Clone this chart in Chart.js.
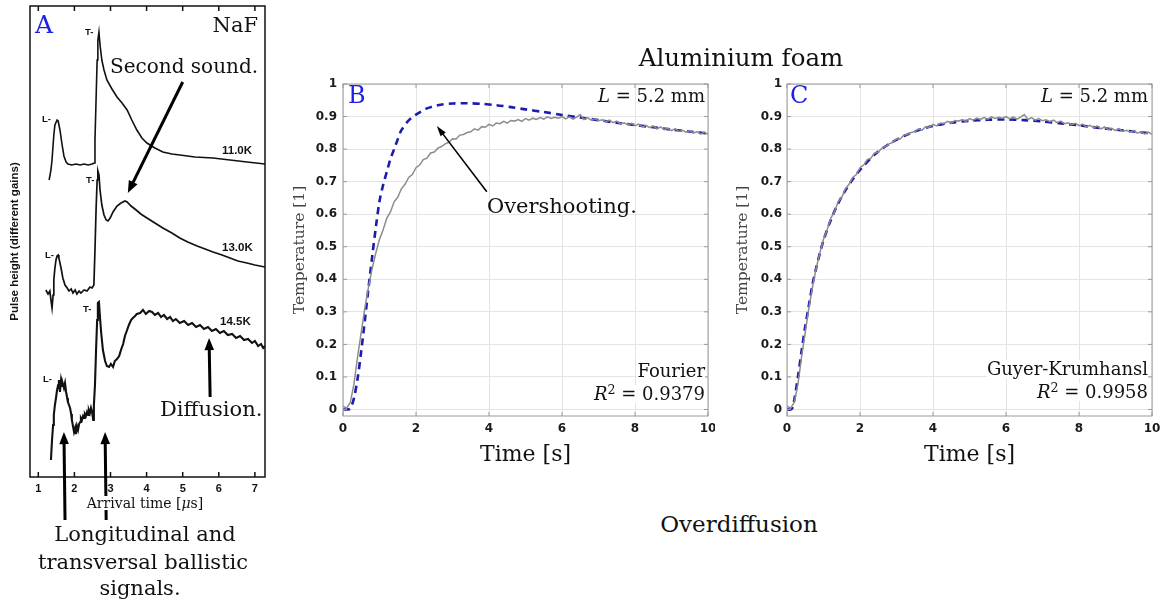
<!DOCTYPE html>
<html>
<head>
<meta charset="utf-8">
<script src="https://cdn.jsdelivr.net/npm/chart.js@4"></script>
<style>
    body { margin: 0; background: #fff; }
    #fig { position: relative; width: 1164px; height: 603px; overflow: hidden; font-family: "DejaVu Serif", serif; color: #111; }
    #fig canvas { position: absolute; }
    .t { position: absolute; white-space: nowrap; line-height: 1; }
</style>
</head>
<body>
<div id="fig">
    <canvas id="panelA" width="285" height="603" style="left:0px;top:0px"></canvas>
    <canvas id="panelB" width="430" height="400" style="left:285px;top:70px"></canvas>
    <canvas id="panelC" width="434" height="400" style="left:730px;top:70px"></canvas>
</div>
<script>
// ---- panel A: heat pulses in NaF (arrival time in µs, pulse height in arbitrary units) ----
const a11Time = [1.30, 1.35, 1.38, 1.43, 1.46, 1.52, 1.55, 1.60, 1.66, 1.71, 1.77, 1.82, 1.93, 2.04, 2.16,
    2.27, 2.38, 2.49, 2.55, 2.57, 2.60, 2.63, 2.65, 2.68, 2.71, 2.76, 2.82, 2.90, 3.04, 3.18,
    3.32, 3.46, 3.59, 3.73, 3.87, 4.01, 4.23, 4.45, 4.70, 4.92, 5.34, 5.84, 6.31, 6.78, 7.28];
const a11Height = [29.7, 30.7, 31.7, 34.2, 35.2, 35.7, 35.6, 34.7, 33.2, 32.1, 31.5, 31.3, 31.2, 31.3, 31.2,
    31.3, 31.2, 31.3, 31.4, 33.7, 37.7, 41.7, 43.7, 44.5, 43.2, 41.7, 40.7, 39.7, 38.8, 38.0,
    37.4, 36.7, 35.7, 34.7, 33.9, 33.4, 32.9, 32.5, 32.3, 32.2, 32.0, 31.9, 31.7, 31.5, 31.3];

const a13Time = [1.21, 1.27, 1.32, 1.35, 1.38, 1.41, 1.43, 1.46, 1.49, 1.52, 1.55, 1.57, 1.63, 1.68, 1.74,
    1.80, 1.85, 1.91, 1.96, 2.02, 2.07, 2.13, 2.18, 2.27, 2.35, 2.43, 2.49, 2.54, 2.57, 2.60,
    2.63, 2.65, 2.68, 2.71, 2.76, 2.82, 2.88, 2.93, 2.99, 3.07, 3.18, 3.29, 3.40, 3.46, 3.57,
    3.71, 3.84, 4.01, 4.23, 4.45, 4.70, 4.92, 5.14, 5.40, 5.62, 5.84, 6.09, 6.31, 6.53, 6.78, 7.00, 7.28];
const a13Height = [18.7, 18.3, 18.6, 17.7, 16.9, 18.2, 19.7, 20.9, 21.7, 22.1, 22.2, 21.9, 20.9, 19.9, 19.2,
    18.9, 18.6, 18.8, 18.4, 18.7, 18.3, 18.6, 18.4, 18.7, 18.6, 19.0, 18.9, 19.2, 22.7, 26.7,
    29.7, 30.6, 30.2, 28.7, 27.2, 26.2, 25.7, 25.6, 25.9, 26.5, 27.1, 27.4, 27.6, 27.5, 27.1,
    26.7, 26.3, 25.9, 25.4, 24.9, 24.4, 23.9, 23.5, 23.1, 22.8, 22.5, 22.2, 21.9, 21.6, 21.4, 21.2, 21.0];

const a14Time = [1.35, 1.38, 1.41, 1.43, 1.46, 1.49, 1.52, 1.55, 1.57, 1.60, 1.63, 1.66, 1.68, 1.71, 1.74, 1.77, 1.80, 1.82,
    1.88, 1.91, 1.93, 1.96, 1.99, 2.02, 2.04, 2.07, 2.10, 2.13, 2.16, 2.18, 2.21, 2.24, 2.27, 2.29,
    2.32, 2.35, 2.38, 2.40, 2.43, 2.46, 2.49, 2.52, 2.54, 2.57, 2.60, 2.63, 2.65, 2.68, 2.71, 2.74,
    2.79, 2.85, 2.90, 2.96, 3.01, 3.07, 3.12, 3.18, 3.24, 3.29, 3.35, 3.40, 3.46, 3.51, 3.57, 3.62, 3.68, 3.73,
    3.82, 3.90, 3.98, 4.07, 4.15, 4.23, 4.32, 4.40, 4.48, 4.57, 4.65, 4.73, 4.81,
    4.92, 5.04, 5.15, 5.26, 5.37, 5.48, 5.59, 5.70, 5.81, 5.92, 6.03, 6.14, 6.25, 6.37, 6.48, 6.59, 6.70, 6.81, 6.92,
    7.00, 7.09, 7.17, 7.23, 7.28];
const a14Height = [1.7, 3.7, 5.2, 6.2, 7.2, 7.9, 8.7, 9.2, 9.7, 8.5, 9.7, 9.1, 9.3, 8.9, 9.4, 8.5, 7.9, 7.5,
    6.9, 6.3, 5.7, 5.1, 4.5, 4.9, 4.3, 5.1, 4.7, 5.3, 5.5, 5.9, 5.7, 6.1, 5.9, 6.3,
    6.1, 6.5, 6.2, 6.7, 6.4, 6.9, 6.5, 5.7, 7.2, 9.2, 12.7, 15.7, 17.4, 17.5, 15.9, 14.5,
    12.7, 11.6, 11.1, 11.0, 11.3, 11.0, 11.6, 11.8, 12.1, 12.7, 13.3, 14.1, 14.7, 15.2, 15.7, 15.9, 16.1, 16.3,
    16.4, 16.7, 16.3, 16.6, 16.5, 16.2, 16.4, 16.0, 16.2, 15.8, 16.0, 15.6, 15.8,
    15.4, 15.6, 15.2, 15.4, 15.0, 15.2, 14.8, 15.0, 14.6, 14.8, 14.4, 14.6, 14.2, 14.3, 13.9, 14.1, 13.7, 13.8, 13.4,
    13.6, 13.1, 13.3, 12.9, 13.1];

const aTicks = [1, 2, 3, 4, 5, 6, 7];

// ---- panels B and C: aluminium foam, normalised rear-side temperature ----
const expTime = [0, 0.1, 0.2, 0.3, 0.4, 0.5, 0.6, 0.7, 0.8, 0.9, 1.0, 1.1, 1.2, 1.3, 1.4, 1.5, 1.6, 1.7, 1.8, 1.9,
    2.0, 2.1, 2.2, 2.3, 2.4, 2.5, 2.6, 2.7, 2.8, 2.9, 3.0, 3.1, 3.2, 3.3, 3.4, 3.5, 3.6, 3.7, 3.8, 3.9,
    4.0, 4.1, 4.2, 4.3, 4.4, 4.5, 4.6, 4.7, 4.8, 4.9, 5.0, 5.1, 5.2, 5.3, 5.4, 5.5, 5.6, 5.7, 5.8, 5.9,
    6.0, 6.1, 6.2, 6.3, 6.4, 6.5, 6.6, 6.7, 6.8, 6.9, 7.0, 7.1, 7.2, 7.3, 7.4, 7.5, 7.6, 7.7, 7.8, 7.9,
    8.0, 8.1, 8.2, 8.3, 8.4, 8.5, 8.6, 8.7, 8.8, 8.9, 9.0, 9.1, 9.2, 9.3, 9.4, 9.5, 9.6, 9.7, 9.8, 9.9, 10.0];
const expTemp = [0.010, 0.004, 0.022, 0.078, 0.162, 0.238, 0.312, 0.377, 0.434, 0.481, 0.523, 0.552, 0.588, 0.607, 0.638, 0.652, 0.678, 0.692, 0.713, 0.722,
    0.743, 0.751, 0.768, 0.772, 0.788, 0.791, 0.803, 0.808, 0.816, 0.821, 0.832, 0.831, 0.843, 0.845, 0.851, 0.853, 0.862, 0.858, 0.869, 0.867,
    0.876, 0.871, 0.880, 0.878, 0.885, 0.880, 0.888, 0.886, 0.891, 0.885, 0.894, 0.889, 0.895, 0.891, 0.897, 0.892, 0.899, 0.894, 0.898, 0.895,
    0.900, 0.893, 0.899, 0.892, 0.898, 0.906, 0.891, 0.897, 0.889, 0.894, 0.887, 0.890, 0.884, 0.889, 0.881, 0.886, 0.878, 0.881, 0.875, 0.879,
    0.872, 0.877, 0.868, 0.873, 0.866, 0.871, 0.862, 0.868, 0.860, 0.864, 0.857, 0.863, 0.854, 0.858, 0.852, 0.857, 0.849, 0.854, 0.846, 0.852, 0.845];

const fourierTime = [0, 0.1, 0.2, 0.3, 0.4, 0.5, 0.6, 0.7, 0.8, 0.9, 1.0, 1.1, 1.2, 1.3, 1.4, 1.5, 1.6, 1.8, 2.0, 2.3,
    2.6, 3.0, 3.4, 3.8, 4.2, 4.6, 5.0, 5.5, 6.0, 6.5, 7.0, 7.5, 8.0, 8.5, 9.0, 9.5, 10];
const fourierTemp = [0, 0, 0.003, 0.035, 0.095, 0.18, 0.275, 0.375, 0.47, 0.56, 0.64, 0.69, 0.73, 0.77, 0.80, 0.83, 0.858, 0.888, 0.906, 0.925,
    0.935, 0.94, 0.941, 0.939, 0.935, 0.929, 0.922, 0.914, 0.905, 0.897, 0.889, 0.881, 0.874, 0.867, 0.86, 0.854, 0.848];

const gkTime = [0, 0.1, 0.15, 0.2, 0.3, 0.4, 0.5, 0.6, 0.7, 0.8, 0.9, 1.0, 1.2, 1.4, 1.6, 1.8, 2.0, 2.4, 2.8, 3.2,
    3.6, 4.0, 4.5, 5.0, 5.5, 6.0, 6.5, 7.0, 7.5, 8.0, 8.5, 9.0, 9.5, 10];
const gkTemp = [0, 0, 0.005, 0.03, 0.10, 0.18, 0.255, 0.32, 0.385, 0.435, 0.48, 0.52, 0.582, 0.633, 0.673, 0.707, 0.736, 0.783, 0.816, 0.84,
    0.858, 0.871, 0.881, 0.887, 0.89, 0.891, 0.889, 0.885, 0.879, 0.873, 0.866, 0.86, 0.854, 0.848];

const timeTicks = [0, 2, 4, 6, 8, 10];
const tempTicks = [0, 0.1, 0.2, 0.3, 0.4, 0.5, 0.6, 0.7, 0.8, 0.9, 1];

// annotation arrows, in data units of each panel
const arrowsA = [
    { from: [5.0, 39.5], to: [3.48, 28.4] },
    { from: [5.76, 8.0], to: [5.73, 13.9] },
    { from: [1.74, -4.3], to: [1.71, 4.5] },
    { from: [2.88, -4.3], to: [2.85, 4.5] },
];
const arrowsB = [{ from: [3.94, 0.669], to: [2.57, 0.871] }];

const GRID = '#e4e4e4';
const BLUE = '#1c1cb0';

function pairs(xs, ys) {
    return xs.map((x, i) => ({ x: x, y: ys[i] }));
}

// force the axis box to a fixed size so the plot area lands where it should
function fixSize(size) {
    return function (scale) {
        if (scale.isHorizontal()) scale.height = size; else scale.width = size;
        scale.paddingLeft = 0;
        scale.paddingRight = 0;
        scale.paddingTop = 0;
        scale.paddingBottom = 0;
    };
}

function setTicks(values) {
    return function (scale) {
        scale.ticks = values.map(v => ({ value: v }));
    };
}

function framePlugin(color, width, tickLen, yTicksToo) {
    return {
        id: 'frame',
        afterDraw(chart) {
            const { ctx, chartArea: a, scales } = chart;
            ctx.save();
            ctx.strokeStyle = color;
            ctx.lineWidth = width;
            ctx.strokeRect(a.left, a.top, a.right - a.left, a.bottom - a.top);
            ctx.beginPath();
            scales.x.ticks.forEach(t => {
                const px = scales.x.getPixelForValue(t.value);
                ctx.moveTo(px, a.bottom); ctx.lineTo(px, a.bottom - tickLen);
                ctx.moveTo(px, a.top); ctx.lineTo(px, a.top + tickLen);
            });
            if (yTicksToo) {
                scales.y.ticks.forEach(t => {
                    const py = scales.y.getPixelForValue(t.value);
                    ctx.moveTo(a.left, py); ctx.lineTo(a.left + tickLen, py);
                    ctx.moveTo(a.right, py); ctx.lineTo(a.right - tickLen, py);
                });
            }
            ctx.stroke();
            ctx.restore();
        }
    };
}

function arrowPlugin(list, width, head, spread) {
    return {
        id: 'arrows',
        afterDraw(chart) {
            const { ctx, scales: { x, y } } = chart;
            ctx.save();
            ctx.strokeStyle = '#000';
            ctx.fillStyle = '#000';
            ctx.lineWidth = width;
            list.forEach(a => {
                const x0 = x.getPixelForValue(a.from[0]), y0 = y.getPixelForValue(a.from[1]);
                const x1 = x.getPixelForValue(a.to[0]), y1 = y.getPixelForValue(a.to[1]);
                const ang = Math.atan2(y1 - y0, x1 - x0);
                ctx.beginPath();
                ctx.moveTo(x0, y0);
                ctx.lineTo(x1 - Math.cos(ang) * head * 0.7, y1 - Math.sin(ang) * head * 0.7);
                ctx.stroke();
                ctx.beginPath();
                ctx.moveTo(x1, y1);
                ctx.lineTo(x1 - head * Math.cos(ang - spread), y1 - head * Math.sin(ang - spread));
                ctx.lineTo(x1 - head * Math.cos(ang + spread), y1 - head * Math.sin(ang + spread));
                ctx.closePath();
                ctx.fill();
            });
            ctx.restore();
        }
    };
}

const base = {
    responsive: false,
    animation: false,
    events: [],
    plugins: { legend: { display: false }, tooltip: { enabled: false } },
};

// ---------- panel A ----------
new Chart(document.getElementById('panelA'), {
    type: 'line',
    data: {
        datasets: [
            { data: pairs(a11Time, a11Height), borderColor: '#111', borderWidth: 1.6, pointRadius: 0, tension: 0 },
            { data: pairs(a13Time, a13Height), borderColor: '#111', borderWidth: 1.7, pointRadius: 0, tension: 0 },
            { data: pairs(a14Time, a14Height), borderColor: '#111', borderWidth: 2.1, pointRadius: 0, tension: 0 },
        ]
    },
    options: Object.assign({}, base, {
        layout: { padding: { left: 0, right: 20, top: 6, bottom: 106 } },
        scales: {
            x: {
                type: 'linear', min: 0.77, max: 7.28,
                afterBuildTicks: setTicks(aTicks),
                afterFit: fixSize(20),
                grid: { display: false, drawTicks: false },
                border: { display: false },
                ticks: { padding: 5, color: '#111', font: { family: 'Liberation Sans', weight: 'bold', size: 11 } },
            },
            y: {
                type: 'linear', min: 0, max: 47.1,
                afterFit: fixSize(30),
                grid: { display: false, drawTicks: false },
                border: { display: false },
                ticks: { display: false },
                title: {
                    display: true, text: 'Pulse height (different gains)', color: '#111',
                    font: { family: 'Liberation Sans', weight: 'bold', size: 11.5 }, padding: { top: 8 },
                },
            },
        },
    }),
    plugins: [framePlugin('#111', 1.5, 5, false), arrowPlugin(arrowsA, 3, 13, 0.38)],
});

// ---------- panels B and C ----------
function tempChart(id, series, yAxisWidth, rightPad, yTickPad, yTitlePad, arrows) {
    const plugins = [framePlugin('#9a9a9a', 1, 4, true)];
    if (arrows) plugins.push(arrowPlugin(arrows, 1.6, 11, 0.3));
    return new Chart(document.getElementById(id), {
        type: 'line',
        data: {
            datasets: [
                { data: pairs(expTime, expTemp), borderColor: '#8c8c8c', borderWidth: 1.5, pointRadius: 0, tension: 0 },
                { data: series, borderColor: BLUE, borderWidth: 2.6, borderDash: [7, 5], pointRadius: 0, tension: 0.3 },
            ]
        },
        options: Object.assign({}, base, {
            layout: { padding: { left: 0, right: rightPad, top: 14, bottom: 0 } },
            scales: {
                x: {
                    type: 'linear', min: 0, max: 10,
                    afterBuildTicks: setTicks(timeTicks),
                    afterFit: fixSize(54),
                    grid: { color: GRID, drawTicks: false },
                    border: { display: false },
                    ticks: { padding: 6, color: '#1a1a1a', font: { family: 'DejaVu Sans', weight: 'bold', size: 12 } },
                    title: { display: true, text: 'Time [s]', color: '#111', font: { family: 'DejaVu Serif', size: 22 }, padding: { bottom: 2 } },
                },
                y: {
                    type: 'linear', min: -0.02, max: 1,
                    afterBuildTicks: setTicks(tempTicks),
                    afterFit: fixSize(yAxisWidth),
                    grid: { color: GRID, drawTicks: false },
                    border: { display: false },
                    ticks: {
                        padding: yTickPad, color: '#1a1a1a', font: { family: 'DejaVu Sans', weight: 'bold', size: 12 },
                        callback: v => String(+v.toFixed(2)),
                    },
                    title: { display: true, text: 'Temperature [1]', color: '#444', font: { family: 'DejaVu Serif', size: 15.5 }, padding: { top: yTitlePad } },
                },
            },
        }),
        plugins: plugins,
    });
}

tempChart('panelB', pairs(fourierTime, fourierTemp), 58, 7, 6, 6, arrowsB);
tempChart('panelC', pairs(gkTime, gkTemp), 57, 12, 5, 4, null);

// ---------- text ----------
const fig = document.getElementById('fig');
function addText(html, x, baseline, size, align, style) {
    const el = document.createElement('div');
    el.className = 't';
    el.innerHTML = html;
    el.style.fontSize = size + 'px';
    el.style.top = (baseline - 0.846 * size) + 'px';
    if (align === 'right') {
        el.style.right = (1164 - x) + 'px';
    } else if (align === 'center') {
        el.style.left = x + 'px';
        el.style.transform = 'translateX(-50%)';
    } else {
        el.style.left = x + 'px';
    }
    Object.assign(el.style, style || {});
    fig.appendChild(el);
}
const sansBold = { fontFamily: '"Liberation Sans", sans-serif', fontWeight: 'bold' };
const blue = { color: '#1f1fe6' };
const whiteBox = { background: '#fff' };
const sq = '<span style="font-size:0.7em;vertical-align:0.5em;line-height:0">2</span>';

// panel A
addText('A', 35, 33, 25, 'left', blue);
addText('NaF', 258, 33, 21, 'right');
addText('Second sound.', 110, 73, 20, 'left');
addText('Diffusion.', 160, 417, 21, 'left');
addText('L-', 42, 122, 9.5, 'left', sansBold);
addText('T-', 85, 35, 9.5, 'left', sansBold);
addText('L-', 45, 258, 9.5, 'left', sansBold);
addText('T-', 86, 183, 9.5, 'left', sansBold);
addText('T-', 83, 312, 9.5, 'left', sansBold);
addText('L-', 43, 382, 9.5, 'left', sansBold);
addText('11.0K', 222, 155, 11.5, 'left', sansBold);
addText('13.0K', 222, 252, 11.5, 'left', sansBold);
addText('14.5K', 220, 326, 11.5, 'left', sansBold);
addText('Arrival time [<i>μ</i>s]', 145, 508, 14, 'center', whiteBox);
addText('Longitudinal and', 145, 542, 21, 'center');
addText('transversal ballistic', 143, 570, 21, 'center');
addText('signals.', 140, 596, 21, 'center');

// panel B
addText('B', 348, 103, 24, 'left', blue);
addText('<i>L</i> = 5.2 mm', 705, 102, 18, 'right');
addText('Overshooting.', 487, 214, 21, 'left');
addText('Fourier', 705, 377, 18, 'right', whiteBox);
addText('<i>R</i>' + sq + ' = 0.9379', 705, 400, 18, 'right', whiteBox);

// panel C
addText('C', 790, 103, 24, 'left', blue);
addText('<i>L</i> = 5.2 mm', 1148, 102, 18, 'right');
addText('Guyer-Krumhansl', 1148, 375, 18, 'right', whiteBox);
addText('<i>R</i>' + sq + ' = 0.9958', 1148, 398, 18, 'right', whiteBox);

// shared captions
addText('Aluminium foam', 741, 67, 24.5, 'center');
addText('Overdiffusion', 739, 532, 23, 'center');
</script>
</body>
</html>
